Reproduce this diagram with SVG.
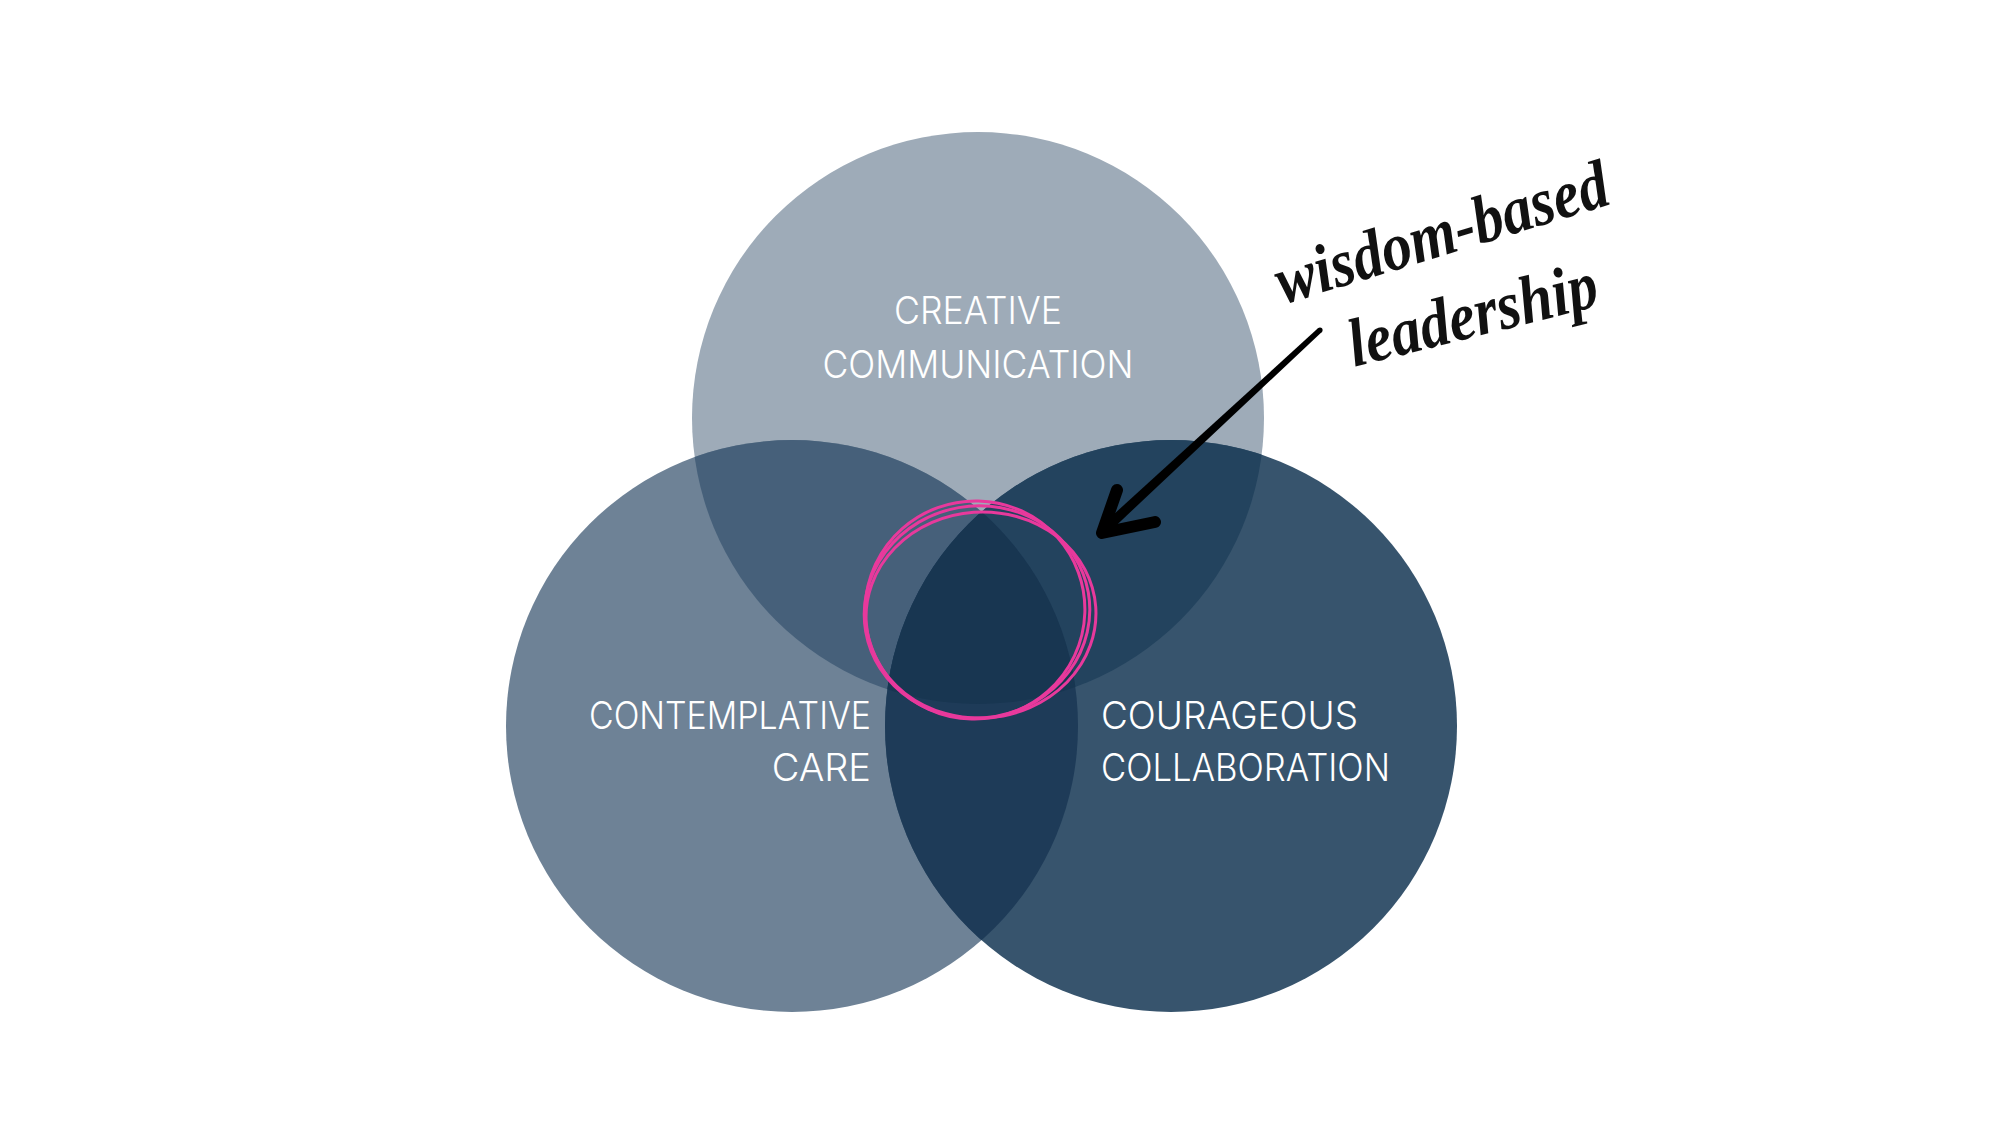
<svg xmlns="http://www.w3.org/2000/svg" width="2000" height="1125" viewBox="0 0 2000 1125">
<style>
.lbl{font-family:Inter,"Liberation Sans",sans-serif;font-weight:300;font-size:38px;fill:#ffffff;}
.script{font-family:"Liberation Serif","DejaVu Serif",serif;font-style:italic;font-weight:bold;font-size:68px;fill:#111111;}
.scrib{fill:none;stroke:#e8399c;stroke-width:3;}
</style>
<defs>
<clipPath id="cTop"><circle cx="978" cy="418" r="286"/></clipPath>
<clipPath id="cLeft"><circle cx="792" cy="726" r="286"/></clipPath>
</defs>
<rect width="2000" height="1125" fill="#ffffff"/>
<g id="node-creative-communication">
<circle cx="978" cy="418" r="286" fill="#9eabb8"/>
</g>
<g id="node-contemplative-care">
<circle cx="792" cy="726" r="286" fill="#6e8296"/>
</g>
<g id="node-courageous-collaboration">
<circle cx="1171" cy="726" r="286" fill="#37546d"/>
</g>
<g id="overlaps">
<circle cx="792" cy="726" r="286" fill="#46607a" clip-path="url(#cTop)"/>
<circle cx="1171" cy="726" r="286" fill="#23435e" clip-path="url(#cTop)"/>
<circle cx="1171" cy="726" r="286" fill="#1e3b58" clip-path="url(#cLeft)"/>
<g clip-path="url(#cTop)"><circle cx="1171" cy="726" r="286" fill="#183651" clip-path="url(#cLeft)"/></g>
</g>
<g id="labels">
<text class="lbl" x="978" y="324" text-anchor="middle" textLength="168" lengthAdjust="spacingAndGlyphs">CREATIVE</text>
<text class="lbl" x="978" y="378" text-anchor="middle" textLength="311" lengthAdjust="spacingAndGlyphs">COMMUNICATION</text>
<text class="lbl" x="589" y="729" textLength="282" lengthAdjust="spacingAndGlyphs">CONTEMPLATIVE</text>
<text class="lbl" x="871" y="781" text-anchor="end">CARE</text>
<text class="lbl" x="1101" y="729" textLength="257" lengthAdjust="spacingAndGlyphs">COURAGEOUS</text>
<text class="lbl" x="1101" y="781" textLength="289" lengthAdjust="spacingAndGlyphs">COLLABORATION</text>
</g>
<g id="node-center-highlight">
<ellipse class="scrib" cx="977" cy="612" rx="113" ry="106" transform="rotate(-10 977 612)"/>
<ellipse class="scrib" cx="981" cy="615" rx="115" ry="103" transform="rotate(-4 981 615)"/>
<ellipse class="scrib" cx="975" cy="610" rx="110" ry="109" transform="rotate(-20 975 610)"/>
</g>
<g id="connectors">
<polygon points="1321.8,331.9 1318.2,328.1 1100.6,526.3 1107.4,533.7" fill="#000000"/>
<circle cx="1320" cy="330" r="2.6" fill="#000000"/>
<path d="M1117,490 L1102,533 L1155,522" fill="none" stroke="#000000" stroke-width="12" stroke-linecap="round" stroke-linejoin="round"/>
</g>
<g id="node-wisdom-based-leadership">
<text class="script" x="1448" y="254" text-anchor="middle" transform="rotate(-17 1448 254)" textLength="345" lengthAdjust="spacingAndGlyphs">wisdom-based</text>
<text class="script" x="1478" y="336" text-anchor="middle" transform="rotate(-14 1478 336)" textLength="255" lengthAdjust="spacingAndGlyphs">leadership</text>
</g>
</svg>
